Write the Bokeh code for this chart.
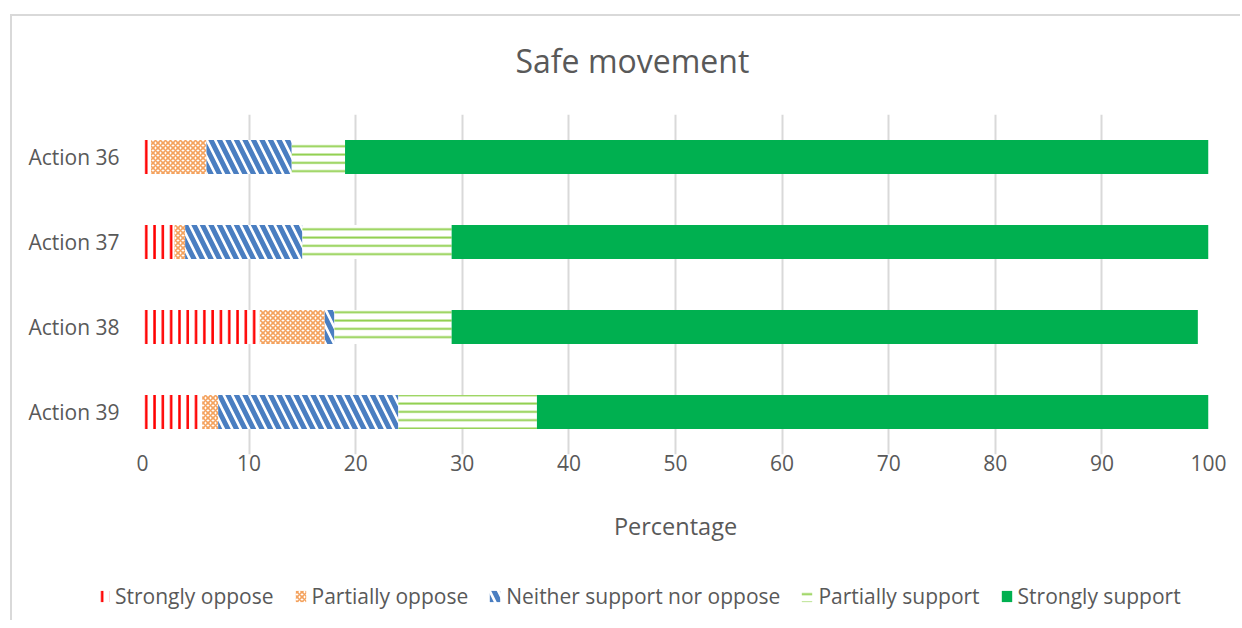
import numpy as np
from bokeh.plotting import figure
from bokeh.models import ColumnDataSource, Legend, LegendItem, FactorRange, Range1d, Title
from bokeh.embed import file_html
from bokeh.resources import INLINE

categories = ["Action 36", "Action 37", "Action 38", "Action 39"]
series_names = ["Strongly oppose", "Partially oppose", "Neither support nor oppose",
                "Partially support", "Strongly support"]
strongly_oppose = [0.8, 3.0, 11.0, 5.6]
partially_oppose = [5.2, 1.0, 6.1, 1.5]
neither = [8.0, 11.0, 0.9, 16.9]
partially_support = [5.0, 14.0, 11.0, 13.0]
strongly_support = [81.0, 71.0, 70.0, 63.3]
x_ticks = [0, 10, 20, 30, 40, 50, 60, 70, 80, 90, 100]

series_values = [strongly_oppose, partially_oppose, neither, partially_support, strongly_support]

styles = [
    dict(fill_color="white", hatch_pattern="|", hatch_color="#FF0000", hatch_scale=8.3, hatch_weight=2.5),
    dict(fill_color="white", hatch_pattern="x", hatch_color="#F4A25E", hatch_scale=5, hatch_weight=1.6),
    dict(fill_color="white", hatch_pattern="\\", hatch_color="#4A7EC1", hatch_scale=17, hatch_weight=5),
    dict(fill_color="white", hatch_pattern="-", hatch_color="#92D050", hatch_scale=8.3, hatch_weight=2),
    dict(fill_color="#00B050"),
]

TEXT = "#595959"
FONT = "Open Sans"
BORDER = "#D9D9D9"
W = 1240

p = figure(width=W, height=550, output_backend="svg", toolbar_location=None,
           y_range=FactorRange(factors=list(reversed(categories)), range_padding=0),
           x_range=Range1d(0, 100))
p.min_border_left = 142
p.min_border_right = W - 1208
p.min_border_top = 114
p.min_border_bottom = 96
p.outline_line_color = None
p.background_fill_color = "white"
p.border_fill_color = "white"
p.border_fill_alpha = 0
p.styles = {
    "background": (f"linear-gradient({BORDER},{BORDER}) 10px 14px / 2px 100% no-repeat, "
                   f"linear-gradient({BORDER},{BORDER}) 10px 14px / 100% 2px no-repeat, white"),
}

cum = np.zeros(len(categories))
for name, vals, st in zip(series_names, series_values, styles):
    vals = np.array(vals, dtype=float)
    src = ColumnDataSource(dict(y=categories, left=cum.copy(), right=cum + vals))
    p.hbar(y="y", left="left", right="right", height=0.4, source=src,
           line_color=None, **st)
    cum = cum + vals

p.xaxis.ticker = x_ticks
p.xgrid.ticker = x_ticks
p.xgrid.grid_line_color = "#D9D9D9"
p.xgrid.grid_line_width = 2
p.ygrid.grid_line_color = None
for ax in (p.xaxis[0], p.yaxis[0]):
    ax.axis_line_color = None
    ax.major_tick_line_color = None
    ax.minor_tick_line_color = None
    ax.major_tick_out = 0
    ax.major_tick_in = 0
    ax.minor_tick_out = 0
    ax.major_label_text_font = FONT
    ax.major_label_text_font_size = "21px"
    ax.major_label_text_color = TEXT
p.xaxis.major_label_standoff = 0
p.yaxis.major_label_standoff = 23
p.xaxis.axis_label = "Percentage"
p.xaxis.axis_label_text_font = FONT
p.xaxis.axis_label_text_font_size = "23.5px"
p.xaxis.axis_label_text_font_style = "normal"
p.xaxis.axis_label_text_color = TEXT
p.xaxis.axis_label_standoff = 36

title = Title(text="Safe movement", align="left", text_font=FONT, text_font_size="32px",
              text_font_style="normal", text_color=TEXT, offset=373, standoff=65)
p.add_layout(title, "above")

# legend figure (separate root so its frame is not aligned to the chart's frame)
lf = figure(width=W, height=70, output_backend="svg", toolbar_location=None,
            x_range=Range1d(0, 1), y_range=Range1d(0, 1),
            x_axis_location=None, y_axis_location=None)
lf.min_border_left = 0
lf.min_border_right = 0
lf.min_border_top = 0
lf.min_border_bottom = 0
lf.outline_line_color = None
lf.xgrid.visible = False
lf.ygrid.visible = False
lf.background_fill_alpha = 0
lf.border_fill_alpha = 0
lf.styles = {
    "background": f"linear-gradient({BORDER},{BORDER}) 10px 0px / 2px 100% no-repeat, white",
}

items = []
for name, st in zip(series_names, styles):
    src = ColumnDataSource(dict(y=[5.0], left=[5.0], right=[6.0]))
    r = lf.hbar(y="y", left="left", right="right", height=0.4, source=src, line_color=None, **st)
    items.append(LegendItem(label=name, renderers=[r]))

legend = Legend(items=items, orientation="horizontal", location=(97, 10),
                label_text_font=FONT, label_text_font_size="21px", label_text_color=TEXT,
                glyph_width=13, glyph_height=14, label_standoff=5, spacing=20,
                border_line_color=None, background_fill_color=None, padding=0, margin=0)
lf.add_layout(legend, "center")

open("out.html", "w").write(file_html([p, lf], INLINE))
